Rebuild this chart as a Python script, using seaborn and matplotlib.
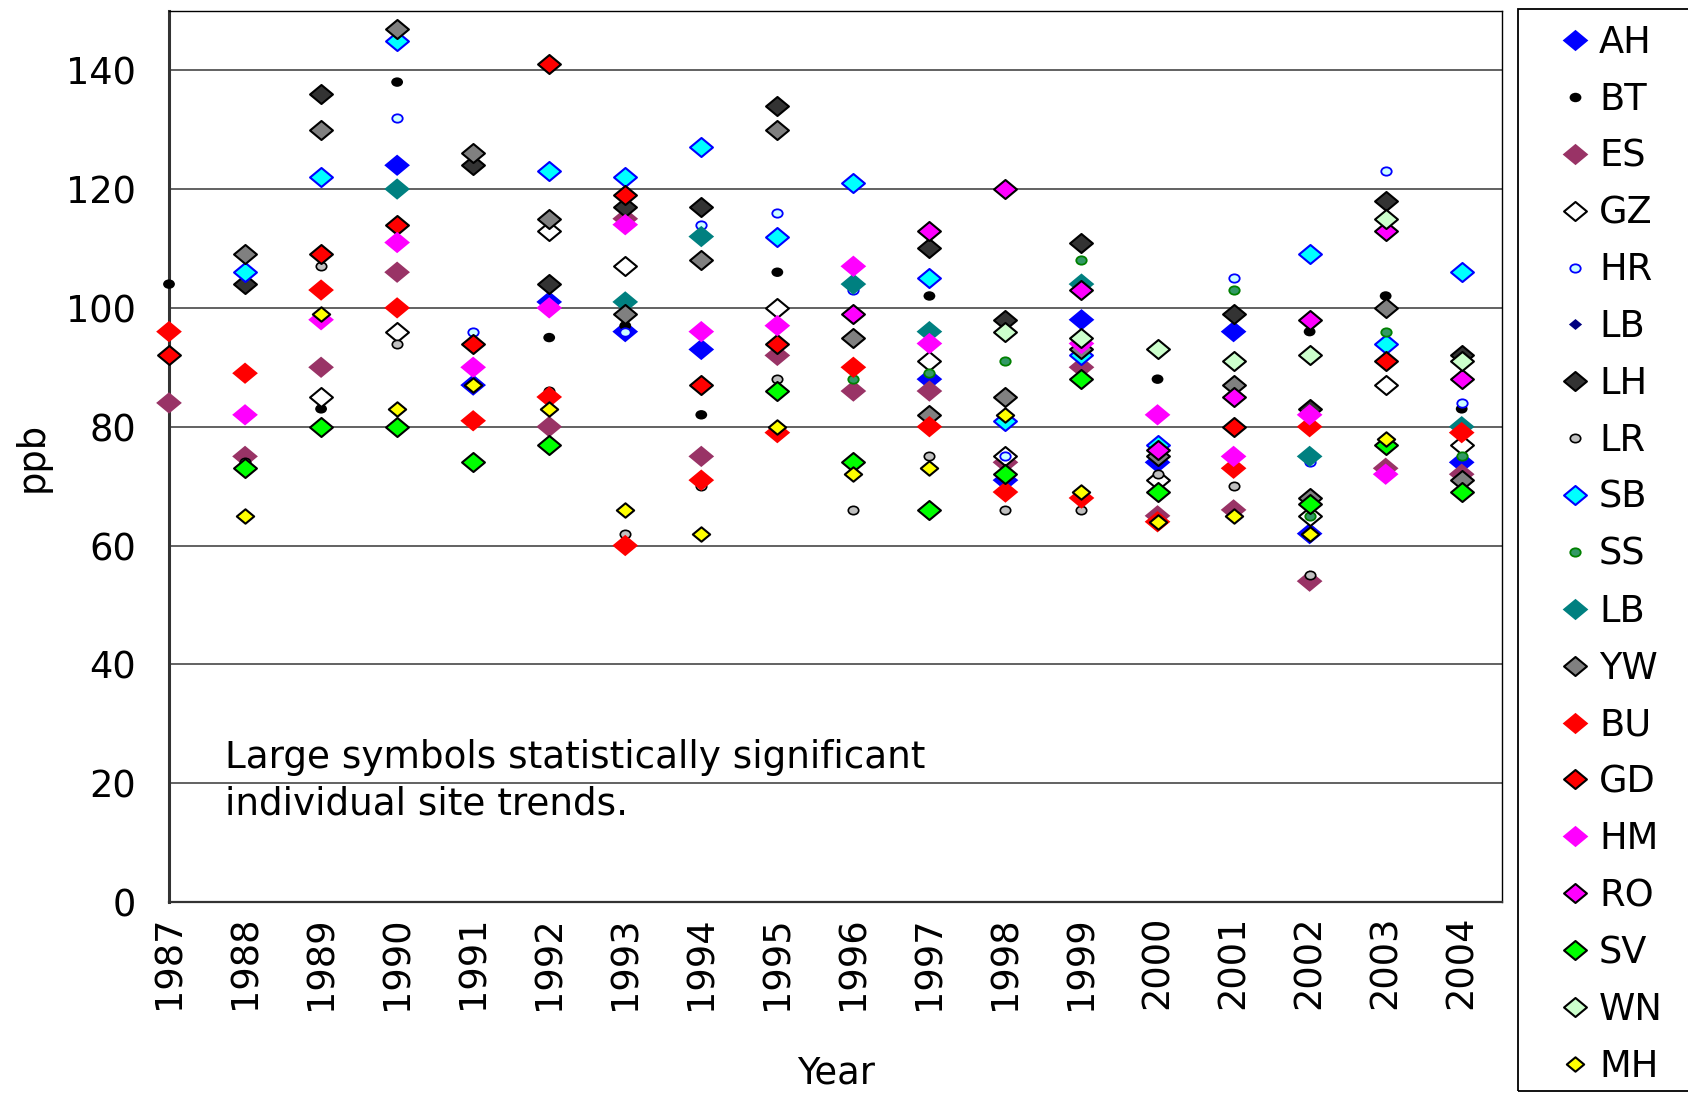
import numpy as np
import pandas as pd
import matplotlib
matplotlib.use("Agg")
import matplotlib.pyplot as plt
from matplotlib.path import Path
from matplotlib.transforms import Affine2D
from matplotlib.lines import Line2D
from matplotlib.patches import Rectangle
import seaborn as sns

# ---------------- data ----------------
years = [1987, 1988, 1989, 1990, 1991, 1992, 1993, 1994, 1995,
         1996, 1997, 1998, 1999, 2000, 2001, 2002, 2003, 2004]
N = None
AH = [N, N, N, 124, 87, 101, 96, 93, N, N, 88, 71, 98, 74, 96, 62, N, 74]
BT = [104, N, 83, 138, N, 95, 97, 82, 106, N, 102, N, N, 88, N, 96, 102, 83]
ES = [84, 75, 90, 106, N, 80, 115, 75, 92, 86, 86, 74, 90, 65, 66, 54, 73, 72]
GZ = [N, N, 85, 96, N, 113, 107, N, 100, N, 91, 75, N, 71, N, 65, 87, 77]
HR = [N, N, N, 132, 96, N, 96, 114, 116, 103, N, 75, N, N, 105, 74, 123, 84]
LB_small = [N] * 18
LH = [N, 104, 136, N, 124, 104, 117, 117, 134, N, 110, 98, 111, N, 99, 83, 118, 92]
LR = [N, 74, 107, 94, N, 86, 62, 70, 88, 66, 75, 66, 66, 72, 70, 55, N, N]
SB = [N, 106, 122, 145, N, 123, 122, 127, 112, 121, 105, 81, 92, 77, N, 109, 94, 106]
SS = [N, N, N, N, N, N, N, N, N, 88, 89, 91, 108, N, 103, 65, 96, 75]
LB_teal = [N, N, N, 120, N, N, 101, 112, N, 104, 96, N, 104, N, N, 75, N, 80]
YW = [N, 109, 130, 147, 126, 115, 99, 108, 130, 95, 82, 85, 93, 75, 87, 68, 100, 71]
BU = [96, 89, 103, 100, 81, 85, 60, 71, 79, 90, 80, 69, 68, 64, 73, 80, N, 79]
GD = [92, N, 109, 114, 94, 141, 119, 87, 94, N, N, N, N, N, 80, N, 91, N]
HM = [N, 82, 98, 111, 90, 100, 114, 96, 97, 107, 94, N, 94, 82, 75, 82, 72, N]
RO = [N, N, N, N, N, N, N, N, N, 99, 113, 120, 103, 76, 85, 98, 113, 88]
SV = [N, 73, 80, 80, 74, 77, N, N, 86, 74, 66, 72, 88, 69, N, 67, 77, 69]
WN = [N, N, N, N, N, N, N, N, N, N, N, 96, 95, 93, 91, 92, 115, 91]
MH = [N, 65, 99, 83, 87, 83, 66, 62, 80, 72, 73, 82, 69, 64, 65, 62, 78, N]

site_labels = ["AH", "BT", "ES", "GZ", "HR", "LB", "LH", "LR", "SB", "SS",
               "LB", "YW", "BU", "GD", "HM", "RO", "SV", "WN", "MH"]
site_values = [AH, BT, ES, GZ, HR, LB_small, LH, LR, SB, SS,
               LB_teal, YW, BU, GD, HM, RO, SV, WN, MH]
y_ticks = [0, 20, 40, 60, 80, 100, 120, 140]

# ---------------- styles ----------------
diamond = Path([(-1, 0), (0, 0.83), (1, 0), (0, -0.83), (-1, 0)],
               [Path.MOVETO, Path.LINETO, Path.LINETO, Path.LINETO, Path.CLOSEPOLY])
ellipse = Path.unit_circle().transformed(Affine2D().scale(1, 0.8))

# (marker, size_pt, face, edge, edge_width)
styles = [
    (diamond, 18.5, "#0000FF", "none", 0),      # AH
    (ellipse, 8.5, "#000000", "none", 0),       # BT
    (diamond, 18.5, "#993366", "none", 0),      # ES
    (diamond, 16.5, "#FFFFFF", "#000000", 1.5), # GZ
    (ellipse, 7.5, "#CCFFFF", "#0000FF", 1.3),  # HR
    (diamond, 9.5, "#000080", "none", 0),       # LB small
    (diamond, 16.5, "#333333", "#000000", 1.5), # LH
    (ellipse, 7.5, "#C0C0C0", "#000000", 1.2),  # LR
    (diamond, 16.5, "#00FFFF", "#0000FF", 1.5), # SB
    (ellipse, 7.5, "#339966", "#008000", 1.3),  # SS
    (diamond, 18.5, "#008080", "none", 0),      # LB teal
    (diamond, 16.5, "#808080", "#000000", 1.5), # YW
    (diamond, 18.5, "#FF0000", "none", 0),      # BU
    (diamond, 16.5, "#FF0000", "#000000", 1.5), # GD
    (diamond, 18.5, "#FF00FF", "none", 0),      # HM
    (diamond, 16.5, "#FF00FF", "#000000", 1.5), # RO
    (diamond, 16.5, "#00FF00", "#000000", 1.5), # SV
    (diamond, 16.5, "#CCFFCC", "#000000", 1.5), # WN
    (diamond, 12.5, "#FFFF00", "#000000", 1.5), # MH
]

# ---------------- figure ----------------
sns.set_style("white")
plt.rcParams["font.family"] = ["DejaVu Sans"]
plt.rcParams["text.color"] = "black"
plt.rcParams["axes.labelcolor"] = "black"
plt.rcParams["xtick.color"] = "black"
plt.rcParams["ytick.color"] = "black"
FS = 26.5

W, H = 1688, 1100
fig = plt.figure(figsize=(W / 100, H / 100), dpi=100)
ax_l, ax_r, ax_t, ax_b = 169, 1502, 10.8, 902
ax = fig.add_axes([ax_l / W, 1 - ax_b / H, (ax_r - ax_l) / W, (ax_b - ax_t) / H])

for i, (lab, vals) in enumerate(zip(site_labels, site_values)):
    df = pd.DataFrame({"Year": years, "ppb": vals}).dropna()
    if df.empty:
        continue
    m, ms, fc, ec, lw = styles[i]
    sns.scatterplot(data=df, x="Year", y="ppb", ax=ax, marker=m, s=ms ** 2,
                    color=fc, edgecolor=ec, linewidth=lw, clip_on=False,
                    zorder=3 + i * 0.01, legend=False)

ax.set_xlim(1987, 2004.53)
ax.set_ylim(0, 150)
ax.set_xticks(years)
ax.set_xticklabels([str(y) for y in years], rotation=90, fontsize=FS, color="black")
ax.set_yticks(y_ticks)
ax.set_yticklabels([str(v) for v in y_ticks], fontsize=FS, color="black")
ax.tick_params(axis="y", direction="out", length=9.5, width=1.2, pad=14, color="#333333")
ax.tick_params(axis="x", direction="out", length=7, width=1.2, pad=3, color="#333333")
ax.set_xlabel("")
ax.set_ylabel("")
for yv in y_ticks[1:]:
    ax.axhline(yv, color="#555555", lw=1.3, zorder=1)
ax.set_axisbelow(True)
ax.spines["left"].set_linewidth(2.2)
ax.spines["left"].set_color("#333333")
ax.spines["bottom"].set_linewidth(1.6)
ax.spines["bottom"].set_color("#333333")
ax.spines["top"].set_linewidth(1.0)
ax.spines["top"].set_color("#000000")
ax.spines["right"].set_linewidth(1.0)
ax.spines["right"].set_color("#000000")

fig.text(32 / W, 1 - 457 / H, "ppb", rotation=90, ha="center", va="center",
         fontsize=FS, color="black")
fig.text(836 / W, 1 - 1073 / H, "Year", ha="center", va="center",
         fontsize=FS, color="black")
fig.text(225 / W, 1 - 739 / H,
         "Large symbols statistically significant\nindividual site trends.",
         ha="left", va="top", fontsize=26.9, linespacing=1.34, color="black")

# legend
handles = []
for i, lab in enumerate(site_labels):
    m, ms, fc, ec, lw = styles[i]
    handles.append(Line2D([], [], linestyle="none", marker=m, markersize=ms,
                          markerfacecolor=fc, markeredgecolor=ec, markeredgewidth=lw))
fig.add_artist(Rectangle((1518 / W, 1 - 1090.5 / H), 0.2, (1090.5 - 8.6) / H,
                         transform=fig.transFigure, fill=False, edgecolor="#000000",
                         lw=1.3, clip_on=False))
leg = fig.legend(handles, site_labels, loc="upper left",
                 bbox_to_anchor=(1564 / W, 1 - 24 / H), frameon=False, fontsize=FS,
                 borderpad=0, borderaxespad=0, handlelength=0.6, handletextpad=0.35,
                 labelspacing=0.54)
for t in leg.get_texts():
    t.set_color("black")

fig.savefig("out.png", dpi=100)
